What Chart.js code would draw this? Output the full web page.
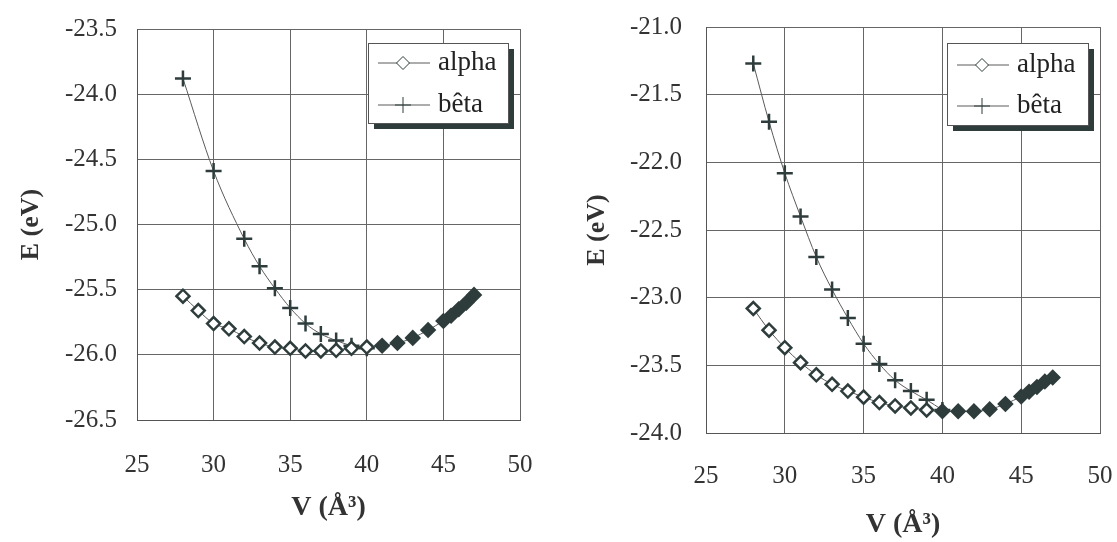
<!DOCTYPE html>
<html lang="fr">
<head>
<meta charset="UTF-8">
<title>E(V) alpha / bêta</title>
<script src="https://cdn.jsdelivr.net/npm/chart.js"></script>
<style>
    body { margin: 0; padding: 0; background: #fff; }
    .graphe { position: absolute; top: 0; }
    #gauche { left: 0; }
    #droite { left: 558px; }
</style>
</head>
<body>
<div class="graphe" id="gauche"><canvas id="chartGauche" width="558" height="542"></canvas></div>
<div class="graphe" id="droite"><canvas id="chartDroite" width="559" height="542"></canvas></div>
<script>
// volumes (Å³) et énergies (eV)
var vAlpha = [28, 29, 30, 31, 32, 33, 34, 35, 36, 37, 38, 39, 40, 41, 42, 43, 44, 45, 45.5, 46, 46.5, 47];

var eAlphaGauche = [-25.55, -25.66, -25.76, -25.80, -25.86, -25.91, -25.94, -25.95, -25.97, -25.97, -25.965,
    -25.95, -25.94, -25.93, -25.91, -25.87, -25.81, -25.74, -25.70, -25.65, -25.60, -25.54];
var vBetaGauche = [28, 30, 32, 33, 34, 35, 36, 37, 38, 39, 40];
var eBetaGauche = [-23.88, -24.59, -25.11, -25.32, -25.49, -25.64, -25.76, -25.84, -25.89, -25.93, -25.95];

var eAlphaDroite = [-23.08, -23.24, -23.37, -23.48, -23.57, -23.64, -23.69, -23.735, -23.775, -23.80, -23.815,
    -23.83, -23.84, -23.84, -23.84, -23.825, -23.785, -23.73, -23.695, -23.66, -23.62, -23.59];
var vBetaDroite = [28, 29, 30, 31, 32, 33, 34, 35, 36, 37, 38, 39, 40];
var eBetaDroite = [-21.27, -21.70, -22.08, -22.40, -22.70, -22.94, -23.15, -23.34, -23.49, -23.61, -23.69, -23.755, -23.83];

var noms = ['alpha', 'bêta'];

var fonce = '#2e3c3c';
var trait = '#5a5a5a';
var police = 'Liberation Serif, Times New Roman, serif';

function points(xs, ys) {
    return xs.map(function(x, i) { return {x: x, y: ys[i]}; });
}

// légende encadrée avec ombre, dessinée dans la zone du graphe
var legendeEncadree = {
    id: 'legendeEncadree',
    afterDatasetsDraw: function(chart, args, opts) {
        var ctx = chart.ctx;
        var a = chart.chartArea;
        var x = a.right - opts.right - opts.width;
        var y = a.top + opts.top;
        ctx.save();
        ctx.fillStyle = fonce;
        ctx.fillRect(x + 6, y + 6, opts.width, opts.height);
        ctx.fillStyle = '#fff';
        ctx.fillRect(x, y, opts.width, opts.height);
        ctx.strokeStyle = '#555';
        ctx.lineWidth = 1;
        ctx.strokeRect(x + 0.5, y + 0.5, opts.width, opts.height);
        chart.data.datasets.forEach(function(ds, i) {
            var cy = y + opts.row0 + i * opts.gap;
            ctx.strokeStyle = trait;
            ctx.lineWidth = 1;
            ctx.beginPath();
            ctx.moveTo(x + 10, cy);
            ctx.lineTo(x + 62, cy);
            ctx.stroke();
            ctx.strokeStyle = fonce;
            ctx.fillStyle = '#fff';
            Chart.helpers.drawPoint(ctx, {
                pointStyle: ds.pointStyle, rotation: 0,
                radius: ds.pointRadius, borderWidth: ds.pointBorderWidth
            }, x + 35, cy);
            ctx.fillStyle = '#222';
            ctx.font = '27px ' + police;
            ctx.textBaseline = 'middle';
            ctx.fillText(ds.label, x + 70, cy);
        });
        ctx.restore();
    }
};

function creer(id, cfg) {
    return new Chart(document.getElementById(id), {
        type: 'line',
        data: {
            datasets: [{
                label: noms[0],
                data: points(vAlpha, cfg.eAlpha),
                borderColor: trait,
                borderWidth: 1,
                pointStyle: 'rectRot',
                pointRadius: 6.5,
                pointBorderWidth: 2.5,
                pointBorderColor: fonce,
                pointBackgroundColor: function(c) {
                    return c.raw && c.raw.x >= cfg.seuil ? fonce : '#fff';
                },
                cubicInterpolationMode: 'monotone'
            }, {
                label: noms[1],
                data: points(cfg.vBeta, cfg.eBeta),
                borderColor: trait,
                borderWidth: 1,
                pointStyle: 'cross',
                pointRadius: 8,
                pointBorderWidth: 2.5,
                pointBorderColor: fonce,
                cubicInterpolationMode: 'monotone'
            }]
        },
        options: {
            responsive: false,
            animation: false,
            layout: { padding: { top: cfg.haut, right: cfg.droite, bottom: 0, left: 0 } },
            plugins: {
                legend: { display: false },
                tooltip: { enabled: false },
                legendeEncadree: cfg.legende
            },
            scales: {
                x: {
                    type: 'linear',
                    min: 25, max: 50,
                    ticks: { stepSize: 5, padding: cfg.padX, color: '#333', font: { family: police, size: 25 } },
                    grid: { color: '#666', lineWidth: 1, drawTicks: false },
                    border: { color: '#555', width: 1 },
                    title: {
                        display: true, text: 'V (Å³)', color: '#333',
                        font: { family: police, size: 28, weight: 'bold' },
                        padding: { top: 0, bottom: cfg.titreX }
                    },
                    afterFit: function(s) {
                        s.height = cfg.hauteurX;
                        s.paddingLeft = 0;
                        s.paddingRight = 0;
                    }
                },
                y: {
                    min: cfg.yMin, max: cfg.yMax,
                    ticks: {
                        stepSize: 0.5, padding: cfg.padY, color: '#333',
                        font: { family: police, size: 25 },
                        callback: function(v) { return v.toFixed(1); }
                    },
                    grid: { color: '#666', lineWidth: 1, drawTicks: false },
                    border: { color: '#555', width: 1 },
                    title: {
                        display: true, text: 'E (eV)', color: '#333',
                        font: { family: police, size: 26, weight: 'bold' },
                        padding: { top: cfg.titreY, bottom: 0 }
                    },
                    afterFit: function(s) {
                        s.width = cfg.largeurY;
                        s.paddingTop = 0;
                        s.paddingBottom = 0;
                    }
                }
            }
        },
        plugins: [legendeEncadree]
    });
}

creer('chartGauche', {
    eAlpha: eAlphaGauche, vBeta: vBetaGauche, eBeta: eBetaGauche, seuil: 41,
    yMin: -26.5, yMax: -23.5,
    haut: 29, droite: 38, hauteurX: 122, largeurY: 137,
    padX: 30, padY: 20, titreX: 17, titreY: 16,
    legende: { width: 140, height: 80, right: 12, top: 14, row0: 20, gap: 42 }
});

creer('chartDroite', {
    eAlpha: eAlphaDroite, vBeta: vBetaDroite, eBeta: eBetaDroite, seuil: 40,
    yMin: -24, yMax: -21,
    haut: 27, droite: 17, hauteurX: 109, largeurY: 148,
    padX: 28, padY: 24, titreX: 0, titreY: 24,
    legende: { width: 141, height: 82, right: 12, top: 16, row0: 22, gap: 41 }
});
</script>
</body>
</html>
